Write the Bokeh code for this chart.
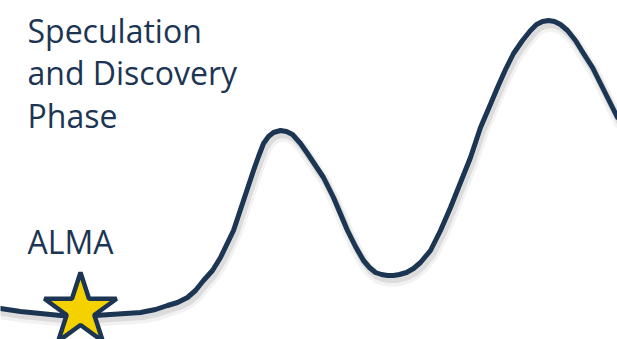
from bokeh.plotting import figure
from bokeh.models import Range1d, ColumnDataSource, Label
from bokeh.transform import dodge
from bokeh.embed import file_html
from bokeh.resources import INLINE

curve_x = [0, 20, 40, 60, 80, 110, 140, 155, 167, 177, 187, 195, 203, 212, 220, 233, 243, 253,
           258, 263, 268, 273, 280, 286, 292, 300, 307, 315, 323, 333, 347, 355, 363, 369,
           375, 381, 387, 393, 399, 406, 413, 420, 430, 440, 450, 460, 470, 480, 489, 497,
           505, 513, 522, 530, 536, 542, 548, 554, 560, 567, 575, 583, 592, 600, 608, 617]
curve_y = [308, 311, 313, 315, 316, 314, 312, 309, 305, 302, 297, 290, 280, 270, 257, 230, 200, 170,
           156, 143, 136, 132, 130, 131, 134, 143, 153, 165, 177, 197, 230, 246, 260, 267,
           272, 274, 275, 275, 274, 272, 268, 262, 250, 230, 207, 182, 157, 127, 106, 87,
           69, 53, 40, 30, 24, 21, 20, 21, 24, 30, 40, 53, 67, 83, 99, 117]

# Milestone marker
star_x = [80]
star_y = [310]
star_label = "ALMA"

phase_lines = ["Speculation", "and Discovery", "Phase"]

NAVY = "#1c3553"
W, H = 617, 339

p = figure(width=W, height=H, output_backend="svg", toolbar_location=None,
           x_range=Range1d(0, W), y_range=Range1d(H, 0), min_border=0)
p.axis.visible = False
p.xgrid.visible = False
p.ygrid.visible = False
p.outline_line_color = None
p.background_fill_color = "white"
p.border_fill_color = "white"

src = ColumnDataSource(dict(x=curve_x, y=curve_y))
# soft drop shadow
p.line(x=dodge("x", 2, range=p.x_range), y=dodge("y", 5, range=p.y_range), source=src,
       line_color="#000000", line_alpha=0.05, line_width=12, line_join="round", line_cap="round")
p.line(x=dodge("x", 2, range=p.x_range), y=dodge("y", 4, range=p.y_range), source=src,
       line_color="#000000", line_alpha=0.09, line_width=7, line_join="round", line_cap="round")
p.line(x="x", y="y", source=src, line_color=NAVY, line_width=5,
       line_join="round", line_cap="round")

p.scatter(x=star_x, y=star_y, marker="star", size=76, fill_color="#f6d100",
          line_color=NAVY, line_width=4.5)

font = "Open Sans"
fs = "32px"
base_y = [30, 72, 115]
for txt, by in zip(phase_lines, base_y):
    p.add_layout(Label(x=27, y=by, text=txt, text_font=font, text_font_size=fs,
                       text_color=NAVY, text_baseline="alphabetic"))
p.add_layout(Label(x=27, y=241, text=star_label, text_font=font, text_font_size=fs,
                   text_color=NAVY, text_baseline="alphabetic"))

open("out.html", "w").write(file_html(p, INLINE))
